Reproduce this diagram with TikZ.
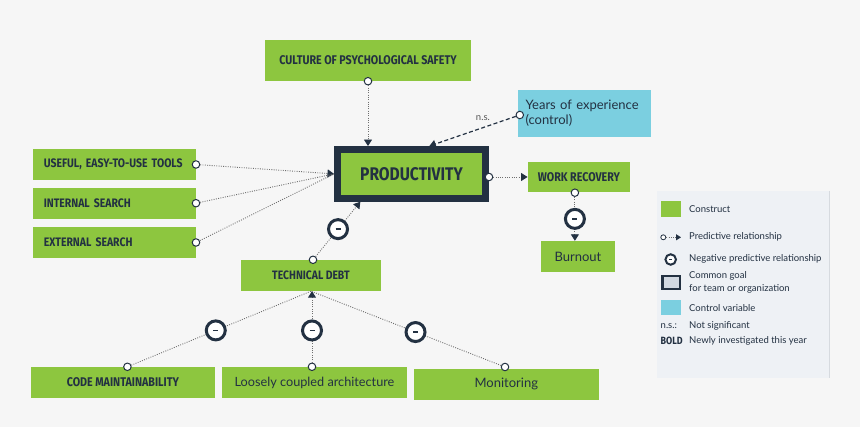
\documentclass[tikz,border=0pt]{standalone}
\usepackage{fontspec}
\setmainfont{Lato}
\newfontfamily\capfont[FakeStretch=0.85]{Fira Sans}
\usetikzlibrary{arrows.meta,calc}
\definecolor{cgreen}{HTML}{8DC63F}
\definecolor{ccyan}{HTML}{7BCFE0}
\definecolor{cdark}{HTML}{233142}
\definecolor{cbg}{HTML}{F6F6F6}
\definecolor{clegend}{HTML}{EEF1F5}
\definecolor{cledge}{HTML}{D6DADF}
\definecolor{cline}{HTML}{6E6E6E}
\definecolor{cgoal}{HTML}{D1D8E1}
\definecolor{cns}{HTML}{555555}
\newcommand{\negbar}[1]{\textcolor{cdark}{\rule{#1}{1.3pt}}}
\begin{document}
\begin{tikzpicture}[x=1pt,y=-1pt,
 gbox/.style={fill=cgreen, inner sep=0, text=cdark, align=center},
 capt/.style={font=\capfont\bfseries\fontsize{#1}{#1}\selectfont},
 regt/.style={font=\fontsize{#1}{#1}\selectfont},
 sc/.style={circle, fill=white, draw=cdark, line width=1pt, minimum size=7.5pt, inner sep=0, solid},
 neg/.style={circle, fill=white, draw=cdark, line width=3pt, minimum size=19pt, inner sep=0, solid},
 dotl/.style={draw=cline, line width=0.9pt, dash pattern=on 0.9pt off 1.4pt},
 tipa/.style={-{Triangle[width=8pt,length=6.5pt,color=cdark]}},
 legt/.style={anchor=west, inner sep=0, text=cdark, font=\fontsize{9.5}{11}\selectfont, align=left},
]
\useasboundingbox (0,0) rectangle (860,427);
\fill[cbg] (0,0) rectangle (860,427);

% ---------- boxes ----------
\node[gbox, capt=12.6, minimum width=206pt, minimum height=41pt] (culture) at (368,60.5) {CULTURE OF PSYCHOLOGICAL SAFETY};
\node[fill=ccyan, inner sep=0, text=cdark, regt=13, align=left, text width=118pt, minimum height=47pt, inner xsep=7.5pt] (years) at (584.5,113.5) {Years of experience\\[2pt](control)};
\node[gbox, capt=18.3, draw=cdark, line width=7pt, minimum width=148pt, minimum height=48.7pt] (prod) at (411.5,173.9) {PRODUCTIVITY};
\node[gbox, capt=12.6, minimum width=102.3pt, minimum height=30pt] (work) at (578.9,177) {WORK RECOVERY};
\node[gbox, capt=12.3, align=left, text width=141pt, inner xsep=11pt, minimum height=30.4pt] (useful) at (114.3,164.5) {USEFUL, EASY-TO-USE TOOLS};
\node[gbox, capt=12.3, align=left, text width=141pt, inner xsep=11pt, minimum height=31pt] (internal) at (114.3,203.2) {INTERNAL SEARCH};
\node[gbox, capt=12.3, align=left, text width=141pt, inner xsep=11pt, minimum height=30.4pt] (external) at (114.3,242.5) {EXTERNAL SEARCH};
\node[gbox, capt=12.2, minimum width=140pt, minimum height=31pt] (tech) at (311,275.5) {TECHNICAL DEBT};
\node[gbox, regt=13, minimum width=73.7pt, minimum height=31pt] (burnout) at (577.9,256.5) {Burnout};
\node[gbox, capt=12.6, minimum width=184.3pt, minimum height=31pt] (code) at (122.9,382.5) {CODE MAINTAINABILITY};
\node[gbox, regt=12.7, minimum width=185pt, minimum height=31pt] (loose) at (314.5,382.5) {Loosely coupled architecture};
\node[gbox, regt=13, minimum width=184.6pt, minimum height=31pt] (monit) at (506.3,384.2) {Monitoring};

% ---------- start circles ----------
\node[sc] (c-cult) at (culture.south) {};
\node[sc] (c-years) at ($(years.west)+(2,1.5)$) {};
\node[sc] (c-useful) at (useful.east) {};
\node[sc] (c-internal) at (internal.east) {};
\node[sc] (c-external) at (external.east) {};
\node[sc] (c-prod) at (prod.east |- work.west) {};
\node[sc] (c-work) at ($(work.south)+(-4,0.5)$) {};
\node[sc] (c-tech) at ($(tech.north)+(2,0)$) {};
\node[sc] (c-code) at ($(code.north)+(4.5,0)$) {};
\node[sc] (c-loose) at ($(loose.north)+(-2.5,0)$) {};
\node[sc] (c-monit) at ($(monit.north)+(-1.3,-1.5)$) {};

% ---------- end points ----------
\coordinate (e-years) at ($(prod.north west)!0.615!(prod.north east)$);
\coordinate (e-tech) at ($(prod.south west)!0.17!(prod.south east)$);

% ---------- connectors ----------
\draw[dotl, tipa] (c-cult) -- (c-cult |- prod.north);
\draw[draw=cdark, line width=1.2pt, dash pattern=on 4pt off 2.5pt, tipa] (c-years) -- node[pos=0.38, above=6pt, inner sep=0, text=cns, regt=9.5] (ns) {n.s.} (e-years);
\draw[dotl, tipa] (c-useful) -- (prod.west);
\draw[dotl] (c-internal) -- (prod.west);
\draw[dotl] (c-external) -- (prod.west);
\draw[dotl, tipa] (c-prod) -- (work.west);
\draw[dotl, tipa] (c-work) -- node[neg, pos=0.5] (n-work) {\negbar{5pt}} (c-work |- burnout.north);
\draw[dotl, tipa] (c-tech) -- node[neg, pos=0.5] (n-tech) {\negbar{5pt}} (e-tech);
\draw[dotl] (c-code) -- node[neg, pos=0.47] (n-code) {\negbar{5pt}} (tech.south);
\draw[dotl, tipa] (c-loose) -- node[neg, pos=0.45] (n-loose) {\negbar{5pt}} (c-loose |- tech.south);
\draw[dotl] (c-monit) -- node[neg, pos=0.45] (n-monit) {\negbar{5pt}} (tech.south);

% ---------- legend ----------
\fill[clegend] (657,191) rectangle (829,378);
\draw[cledge, line width=1pt] (829,191) -- (829,378);
\node[fill=cgreen, minimum width=20pt, minimum height=16pt, inner sep=0] (lg-green) at (671,209) {};
\node[legt] (lt-green) at (689,209) {Construct};
\node[sc, minimum size=5pt, line width=0.8pt] (lg-c) at (663.3,237.3) {};
\coordinate (lg-e) at (681,237.3);
\draw[dotl, -{Triangle[width=6pt,length=5pt,color=cdark]}] (lg-c) -- (lg-e);
\node[legt] (lt-pred) at (689,237) {Predictive relationship};
\node[neg, minimum size=10.5pt, line width=2pt] (lg-neg) at (670.7,259.5) {\negbar{3pt}};
\node[legt] (lt-neg) at (689,258.5) {Negative predictive relationship};
\node[fill=cgoal, draw=cdark, line width=2.5pt, minimum width=17.5pt, minimum height=12.8pt, inner sep=0] (lg-goal) at (671,282.6) {};
\node[legt, font=\fontsize{9.5}{12.5}\selectfont] (lt-goal) at (689,282.3) {Common goal\\for team or organization};
\node[fill=ccyan, minimum width=20pt, minimum height=15pt, inner sep=0] (lg-cyan) at (671,307.5) {};
\node[legt] (lt-cyan) at (689,308) {Control variable};
\node[legt] (lg-ns) at (660.5,325.7) {n.s.:};
\node[legt] (lt-ns) at (689,325.7) {Not significant};
\node[legt, font=\capfont\bfseries\fontsize{10.5}{11}\selectfont] (lg-bold) at (660.5,341.3) {BOLD};
\node[legt] (lt-bold) at (689,341.3) {Newly investigated this year};
\end{tikzpicture}
\end{document}
